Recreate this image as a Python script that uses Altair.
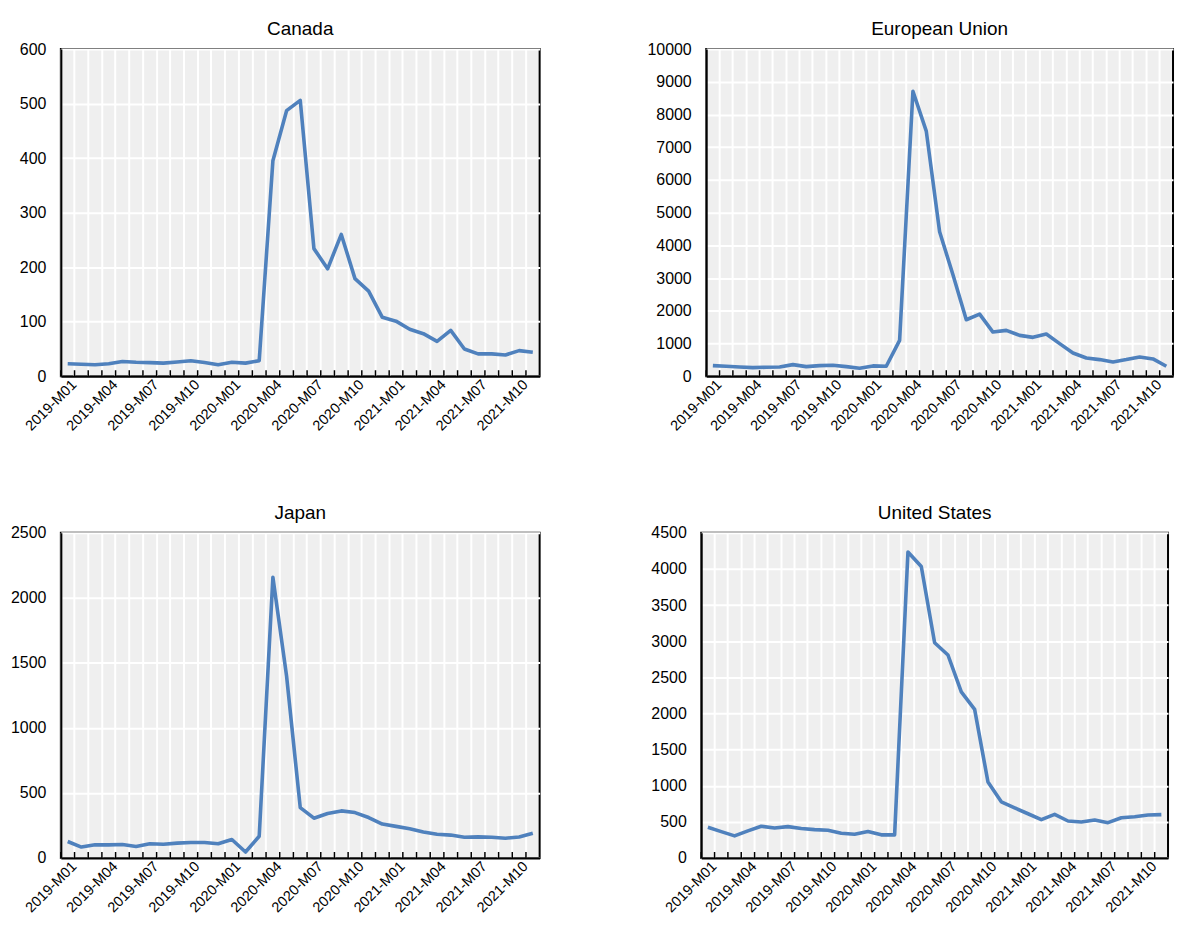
import altair as alt
import pandas as pd

months = [
    "2019-M01", "2019-M02", "2019-M03", "2019-M04", "2019-M05", "2019-M06",
    "2019-M07", "2019-M08", "2019-M09", "2019-M10", "2019-M11", "2019-M12",
    "2020-M01", "2020-M02", "2020-M03", "2020-M04", "2020-M05", "2020-M06",
    "2020-M07", "2020-M08", "2020-M09", "2020-M10", "2020-M11", "2020-M12",
    "2021-M01", "2021-M02", "2021-M03", "2021-M04", "2021-M05", "2021-M06",
    "2021-M07", "2021-M08", "2021-M09", "2021-M10", "2021-M11",
]

canada = [23, 22, 21, 23, 27, 25.5, 25, 24, 26, 28.5, 25, 21, 25.5, 24, 28.5,
          395, 487, 506, 234, 197, 260, 179, 156, 108, 101, 86, 78, 64, 84,
          50, 41, 41, 39, 47, 44]

eu = [325, 305, 284, 264, 274, 284, 355, 294, 325, 335, 294, 244, 315, 305,
      1096, 8711, 7492, 4416, 3100, 1726, 1898, 1350, 1401, 1249, 1188, 1289,
      995, 711, 558, 508, 437, 508, 589, 528, 305]

japan = [127, 84, 101, 101, 104, 89, 109, 106, 114, 119, 119, 109, 142, 46,
         167, 2158, 1399, 387, 306, 342, 362, 349, 311, 261, 243, 225, 200,
         182, 176, 160, 162, 160, 152, 162, 190]

us = [425, 365, 306, 375, 439, 416, 434, 407, 393, 384, 343, 329, 365, 320,
      320, 4235, 4034, 2979, 2809, 2298, 2056, 1051, 777, 694, 612, 530, 603,
      512, 498, 525, 489, 557, 571, 594, 600]

FONT = "Liberation Sans, Arial, sans-serif"
W_LEFT, W_RIGHT = 480, 468
H_TOP, H_BOTTOM = 328, 326
BLUE = "#4F81BD"

LABEL_EXPR = ("indexof(['M01','M04','M07','M10'], slice(datum.label, 5)) >= 0"
              " ? datum.label : ''")


def x_axis(width):
    return alt.Axis(
        title=None,
        bandPosition=0,
        grid=True,
        gridColor="white",
        gridWidth=2,
        ticks=False,
        domain=True,
        domainColor="black",
        domainWidth=2,
        labelAngle=315,
        labelAlign="right",
        labelBaseline="middle",
        labelOffset=width / len(months) / 2,
        labelPadding=6,
        labelFont=FONT,
        labelFontSize=14.5,
        labelColor="black",
        labelExpr=LABEL_EXPR,
        labelOverlap=False,
    )


def panel(name, values, ymax, yvals, width, height):
    df = pd.DataFrame({"month": months, "value": values})
    xs = alt.Scale(type="band", domain=months, paddingInner=0, paddingOuter=0)
    base = alt.Chart(df)
    ticks = base.mark_rule(color="black", strokeWidth=1.5).encode(
        x=alt.X("month:O", scale=xs, bandPosition=0, sort=None,
                axis=x_axis(width)),
        y=alt.value(height - 6),
        y2=alt.value(height),
    )
    line = base.mark_line(color=BLUE, strokeWidth=3.6, strokeJoin="round").encode(
        x=alt.X("month:O", scale=xs, bandPosition=0.5, sort=None,
                axis=x_axis(width)),
        y=alt.Y(
            "value:Q",
            scale=alt.Scale(domain=[0, ymax], nice=False, zero=True),
            axis=alt.Axis(
                title=None,
                values=yvals,
                format="d",
                grid=True,
                gridColor="white",
                gridWidth=2,
                ticks=False,
                domain=True,
                domainColor="black",
                domainWidth=2,
                labelFont=FONT,
                labelFontSize=16,
                labelColor="black",
                labelPadding=15,
            ),
        ),
    )
    return alt.layer(ticks, line).properties(
        width=width,
        height=height,
        title=alt.Title(
            name,
            font=FONT,
            fontSize=19,
            fontWeight="normal",
            color="black",
            anchor="middle",
            offset=2,
        ),
    )


c1 = panel("Canada", canada, 600, [0, 100, 200, 300, 400, 500, 600],
           W_LEFT, H_TOP)
c2 = panel("European Union", eu, 10000,
           [0, 1000, 2000, 3000, 4000, 5000, 6000, 7000, 8000, 9000, 10000],
           W_RIGHT, H_TOP)
c3 = panel("Japan", japan, 2500, [0, 500, 1000, 1500, 2000, 2500],
           W_LEFT, H_BOTTOM)
c4 = panel("United States", us, 4500,
           [0, 500, 1000, 1500, 2000, 2500, 3000, 3500, 4000, 4500],
           W_RIGHT, H_BOTTOM)

top = alt.hconcat(c1, c2, spacing=100)
bottom = alt.hconcat(c3, c4, spacing=104)

chart = (
    alt.vconcat(top, bottom, spacing=69)
    .properties(padding={"left": 1, "top": 10, "right": 0, "bottom": 0},
                background="white")
    .configure_view(fill="#EFEFEF", stroke="black", strokeWidth=2)
)

chart.save("out.html", embed_options={"renderer": "svg", "actions": False})
